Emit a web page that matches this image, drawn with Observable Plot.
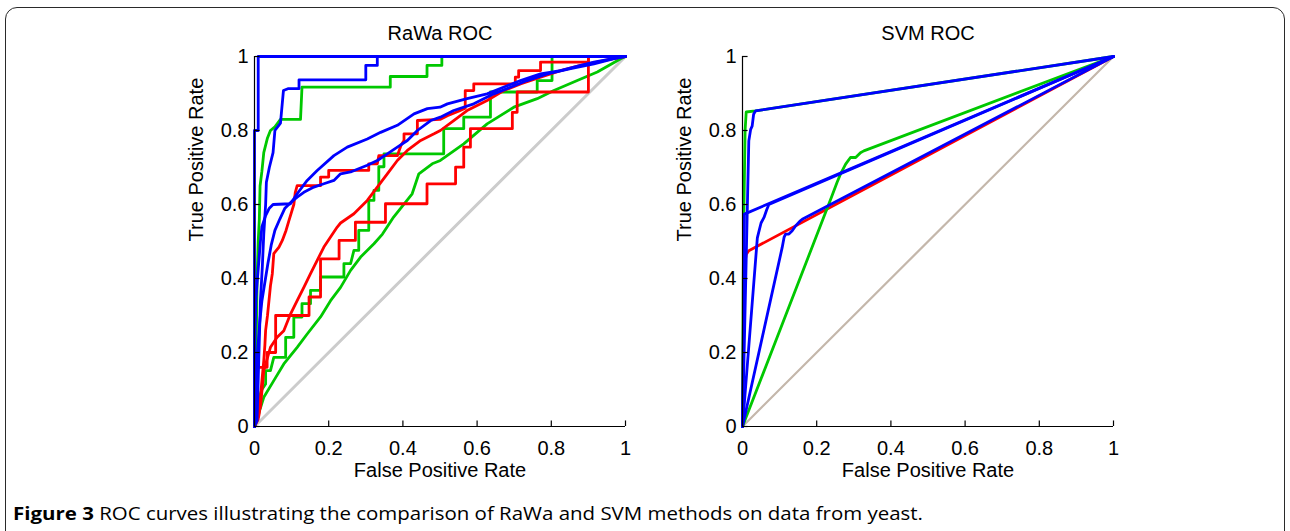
<!DOCTYPE html>
<html>
<head>
<meta charset="utf-8">
<script src="https://cdn.jsdelivr.net/npm/d3@7"></script>
<script src="https://cdn.jsdelivr.net/npm/@observablehq/plot@0.6"></script>
<style>
  html, body { margin: 0; padding: 0; background: #fff; }
  #wrap { position: relative; width: 1290px; height: 531px; overflow: hidden; background: #fff; }
  #frame { position: absolute; left: 5px; top: 7px; width: 1280px; height: 540px; border: 1.5px solid #2a2a2a; border-radius: 12px; box-sizing: border-box; }
  .panel { position: absolute; top: 0; }
  #cap { position: absolute; left: 13px; top: 503px; font-family: "Open Sans", "Noto Sans", sans-serif; font-size: 17.5px; color: #000; white-space: nowrap; transform-origin: 0 0; line-height: 20px; }
</style>
</head>
<body>
<div id="wrap">
  <div id="frame"></div>
  <div id="left" class="panel" style="left:0px"></div>
  <div id="right" class="panel" style="left:645px"></div>
  <div id="cap"><b>Figure 3</b> ROC curves illustrating the comparison of RaWa and SVM methods on data from yeast.</div>
</div>
<script>
// ---------- axis ticks ----------
const xTicks = [0, 0.2, 0.4, 0.6, 0.8, 1];
const yTicks = [0, 0.2, 0.4, 0.6, 0.8, 1];
const tickLabels = ["0", "0.2", "0.4", "0.6", "0.8", "1"];

// ---------- chance diagonal ----------
const diagonal = [[0, 0], [1, 1]];

// ---------- RaWa ROC curves: [FPR, TPR] ----------
const rawaBlue1 = [[0,0],[0,0.8],[0.01,0.8],[0.01,1],[1,1]];
const rawaBlue2 = [[0,0],[0.007,0.016],[0.012,0.2],[0.016,0.34],[0.021,0.43],[0.025,0.52],[0.03,0.6],[0.032,0.66],[0.04,0.7],[0.05,0.74],[0.055,0.8],[0.07,0.82],[0.078,0.908],[0.09,0.913],[0.12,0.913],[0.12,0.937],[0.30,0.937],[0.30,0.976],[0.331,0.976],[0.331,1],[1,1]];
const rawaBlue3 = [[0,0],[0,0.2],[0.004,0.35],[0.008,0.4],[0.012,0.45],[0.016,0.5],[0.02,0.54],[0.03,0.57],[0.04,0.59],[0.05,0.6],[0.097,0.602],[0.115,0.629],[0.142,0.665],[0.169,0.692],[0.214,0.732],[0.25,0.755],[0.304,0.777],[0.34,0.795],[0.385,0.814],[0.43,0.845],[0.466,0.859],[0.5,0.863],[0.52,0.872],[0.573,0.886],[0.627,0.899],[0.681,0.921],[0.717,0.935],[0.771,0.953],[0.825,0.962],[0.879,0.976],[0.915,0.985],[0.987,0.998],[1,1]];
const rawaBlue4 = [[0,0],[0.004,0.12],[0.008,0.2],[0.014,0.28],[0.02,0.34],[0.028,0.39],[0.036,0.44],[0.045,0.49],[0.055,0.53],[0.068,0.56],[0.082,0.59],[0.097,0.605],[0.115,0.62],[0.133,0.633],[0.16,0.647],[0.187,0.656],[0.214,0.665],[0.232,0.683],[0.259,0.688],[0.304,0.706],[0.331,0.719],[0.358,0.737],[0.385,0.755],[0.412,0.773],[0.439,0.8],[0.475,0.827],[0.501,0.836],[0.537,0.854],[0.591,0.872],[0.645,0.899],[0.69,0.917],[0.735,0.935],[0.789,0.953],[0.852,0.967],[0.915,0.98],[0.969,0.994],[1,1]];
const rawaGreen1 = [[0,0],[0.003,0.1],[0.005,0.25],[0.007,0.4],[0.01,0.5],[0.013,0.56],[0.015,0.65],[0.02,0.69],[0.025,0.74],[0.035,0.78],[0.043,0.8],[0.055,0.81],[0.07,0.83],[0.124,0.83],[0.128,0.917],[0.366,0.917],[0.366,0.946],[0.465,0.946],[0.465,0.976],[0.505,0.976],[0.505,1],[1,1]];
const rawaGreen2 = [[0,0],[0.004,0.03],[0.01,0.07],[0.02,0.1],[0.03,0.115],[0.03,0.151],[0.043,0.151],[0.052,0.187],[0.084,0.187],[0.084,0.241],[0.106,0.241],[0.106,0.296],[0.128,0.296],[0.128,0.332],[0.151,0.332],[0.151,0.368],[0.178,0.368],[0.178,0.404],[0.241,0.404],[0.241,0.44],[0.259,0.44],[0.268,0.476],[0.281,0.476],[0.281,0.53],[0.308,0.53],[0.308,0.611],[0.322,0.611],[0.322,0.638],[0.335,0.638],[0.335,0.702],[0.349,0.702],[0.349,0.737],[0.51,0.737],[0.51,0.805],[0.564,0.805],[0.564,0.836],[0.636,0.836],[0.636,0.904],[0.762,0.904],[0.762,0.935],[0.802,0.935],[0.802,1],[1,1]];
const rawaGreen3 = [[0,0],[0.006,0.018],[0.025,0.079],[0.052,0.124],[0.079,0.169],[0.115,0.214],[0.142,0.25],[0.178,0.296],[0.205,0.34],[0.232,0.376],[0.259,0.422],[0.286,0.458],[0.322,0.494],[0.345,0.52],[0.375,0.566],[0.425,0.629],[0.443,0.683],[0.479,0.71],[0.501,0.719],[0.564,0.764],[0.627,0.818],[0.699,0.863],[0.762,0.886],[0.807,0.908],[0.87,0.935],[0.924,0.958],[0.987,0.994],[1,1]];
const rawaRed1 = [[0,0],[0.007,0.02],[0.007,0.16],[0.034,0.16],[0.034,0.2],[0.057,0.2],[0.057,0.3],[0.147,0.3],[0.147,0.35],[0.178,0.35],[0.178,0.453],[0.228,0.453],[0.228,0.503],[0.272,0.503],[0.272,0.552],[0.353,0.552],[0.353,0.602],[0.465,0.602],[0.465,0.656],[0.542,0.656],[0.542,0.701],[0.564,0.701],[0.564,0.755],[0.582,0.755],[0.582,0.805],[0.695,0.805],[0.695,0.849],[0.708,0.849],[0.708,0.904],[0.9,0.904],[0.9,1],[1,1]];
const rawaRed2 = [[0,0],[0.01,0.02],[0.013,0.036],[0.016,0.08],[0.02,0.124],[0.025,0.178],[0.028,0.22],[0.03,0.26],[0.035,0.3],[0.043,0.38],[0.048,0.413],[0.052,0.467],[0.066,0.485],[0.075,0.503],[0.085,0.53],[0.093,0.557],[0.1,0.58],[0.106,0.6],[0.11,0.633],[0.115,0.651],[0.178,0.651],[0.178,0.674],[0.2,0.674],[0.2,0.692],[0.308,0.692],[0.308,0.71],[0.331,0.71],[0.335,0.732],[0.385,0.732],[0.395,0.76],[0.403,0.773],[0.403,0.791],[0.439,0.791],[0.439,0.827],[0.5,0.83],[0.52,0.84],[0.55,0.852],[0.568,0.86],[0.568,0.908],[0.591,0.908],[0.591,0.926],[0.703,0.926],[0.703,0.944],[0.712,0.944],[0.712,0.962],[0.771,0.962],[0.771,0.985],[0.9,0.985],[0.9,1],[1,1]];
const rawaRed3 = [[0,0],[0.005,0.02],[0.016,0.052],[0.025,0.151],[0.043,0.214],[0.061,0.241],[0.079,0.259],[0.097,0.304],[0.115,0.34],[0.133,0.376],[0.151,0.413],[0.169,0.449],[0.187,0.485],[0.205,0.512],[0.223,0.539],[0.232,0.55],[0.268,0.575],[0.304,0.611],[0.331,0.647],[0.358,0.683],[0.385,0.719],[0.412,0.746],[0.448,0.773],[0.484,0.791],[0.501,0.8],[0.537,0.827],[0.573,0.854],[0.627,0.881],[0.672,0.908],[0.717,0.926],[0.771,0.944],[0.825,0.962],[0.879,0.976],[0.942,0.989],[0.987,0.998],[1,1]];

// ---------- SVM ROC curves: [FPR, TPR] ----------
const svmRed    = [[0,0],[0.003,0.3],[0.006,0.44],[0.01,0.465],[0.017,0.475],[1,1]];
const svmGreen1 = [[0,0],[0.002,0.4],[0.004,0.6],[0.007,0.8],[0.01,0.85],[0.035,0.853],[1,1]];
const svmGreen2 = [[0,0],[0.24,0.62],[0.255,0.66],[0.264,0.682],[0.278,0.709],[0.291,0.727],[0.305,0.727],[0.318,0.74],[0.327,0.745],[1,1]];
const svmBlue1  = [[0,0],[0.017,0.772],[0.022,0.803],[0.026,0.812],[0.03,0.844],[0.035,0.853],[1,1]];
const svmBlue2  = [[0,0],[0.005,0.574],[1,1]];
const svmBlue3  = [[0,0],[0.04,0.51],[0.045,0.53],[0.05,0.55],[0.058,0.565],[0.065,0.585],[0.071,0.6],[1,1]];
const svmBlue4  = [[0,0],[0.107,0.484],[0.112,0.511],[0.116,0.52],[0.125,0.52],[0.134,0.529],[0.143,0.542],[0.156,0.556],[0.161,0.56],[1,1]];

const BLUE = "#0000ff", GREEN = "#00c800", RED = "#ff0000";

const rawaCurves = [
  {data: rawaGreen3, color: GREEN}, {data: rawaGreen2, color: GREEN}, {data: rawaGreen1, color: GREEN},
  {data: rawaRed3, color: RED}, {data: rawaRed2, color: RED}, {data: rawaRed1, color: RED},
  {data: rawaBlue4, color: BLUE}, {data: rawaBlue3, color: BLUE}, {data: rawaBlue2, color: BLUE}, {data: rawaBlue1, color: BLUE}
];
const svmCurves = [
  {data: svmRed, color: RED}, {data: svmGreen2, color: GREEN}, {data: svmGreen1, color: GREEN},
  {data: svmBlue4, color: BLUE}, {data: svmBlue3, color: BLUE}, {data: svmBlue2, color: BLUE}, {data: svmBlue1, color: BLUE}
];

const TICK = 0.015;
const FONT = '"Liberation Sans", Arial, Helvetica, sans-serif';
const lbl = d => tickLabels[xTicks.indexOf(d)];

function panel({title, curves, diagColor, diagWidth, marginLeft, marginRight, ylabelDx}) {
  const marks = [
    Plot.line(diagonal, {x: d => d[0], y: d => d[1], stroke: diagColor, strokeWidth: diagWidth})
  ];
  for (const c of curves) {
    marks.push(Plot.line(c.data, {x: d => d[0], y: d => d[1], stroke: c.color, strokeWidth: 2.8}));
  }
  marks.push(
    Plot.ruleY([0], {stroke: "#000", strokeWidth: 1.2}),
    Plot.ruleX([0], {stroke: "#000", strokeWidth: 1.2}),
    Plot.ruleX(xTicks, {x: d => d, y1: 0, y2: TICK, stroke: "#000", strokeWidth: 1.2}),
    Plot.ruleY(yTicks, {y: d => d, x1: 0, x2: TICK, stroke: "#000", strokeWidth: 1.2}),
    Plot.axisX(xTicks, {tickSize: 0, tickPadding: 14, tickFormat: lbl, fontSize: 20, label: null}),
    Plot.axisY(yTicks, {tickSize: 0, tickPadding: 6, tickFormat: d => tickLabels[yTicks.indexOf(d)], fontSize: 20, label: null}),
    Plot.text(["False Positive Rate"], {text: d => d, frameAnchor: "bottom", lineAnchor: "middle", dy: 44, fontSize: 20, fill: "#000"}),
    Plot.text(["True Positive Rate"], {text: d => d, frameAnchor: "left", lineAnchor: "middle", dx: ylabelDx, rotate: -90, fontSize: 20, fill: "#000"}),
    Plot.text([title], {text: d => d, frameAnchor: "top", lineAnchor: "middle", dy: -23, fontSize: 20, fill: "#000"})
  );
  return Plot.plot({
    width: 645,
    height: 492,
    marginLeft, marginRight,
    marginTop: 56,
    marginBottom: 66,
    x: {domain: [0, 1]},
    y: {domain: [0, 1]},
    style: {fontFamily: FONT, fontSize: "20px", color: "#000", background: "none", overflow: "visible"},
    marks
  });
}

document.getElementById("left").append(panel({
  title: "RaWa ROC", curves: rawaCurves, diagColor: "#cccccc", diagWidth: 3,
  marginLeft: 254, marginRight: 20, ylabelDx: -58
}));
document.getElementById("right").append(panel({
  title: "SVM ROC", curves: svmCurves, diagColor: "#c4b7ab", diagWidth: 2.2,
  marginLeft: 97, marginRight: 177, ylabelDx: -58
}));

// fit caption width to the reference span
const cap = document.getElementById("cap");
const w = cap.getBoundingClientRect().width;
cap.style.transform = `scaleX(${910 / w})`;
</script>
</body>
</html>
